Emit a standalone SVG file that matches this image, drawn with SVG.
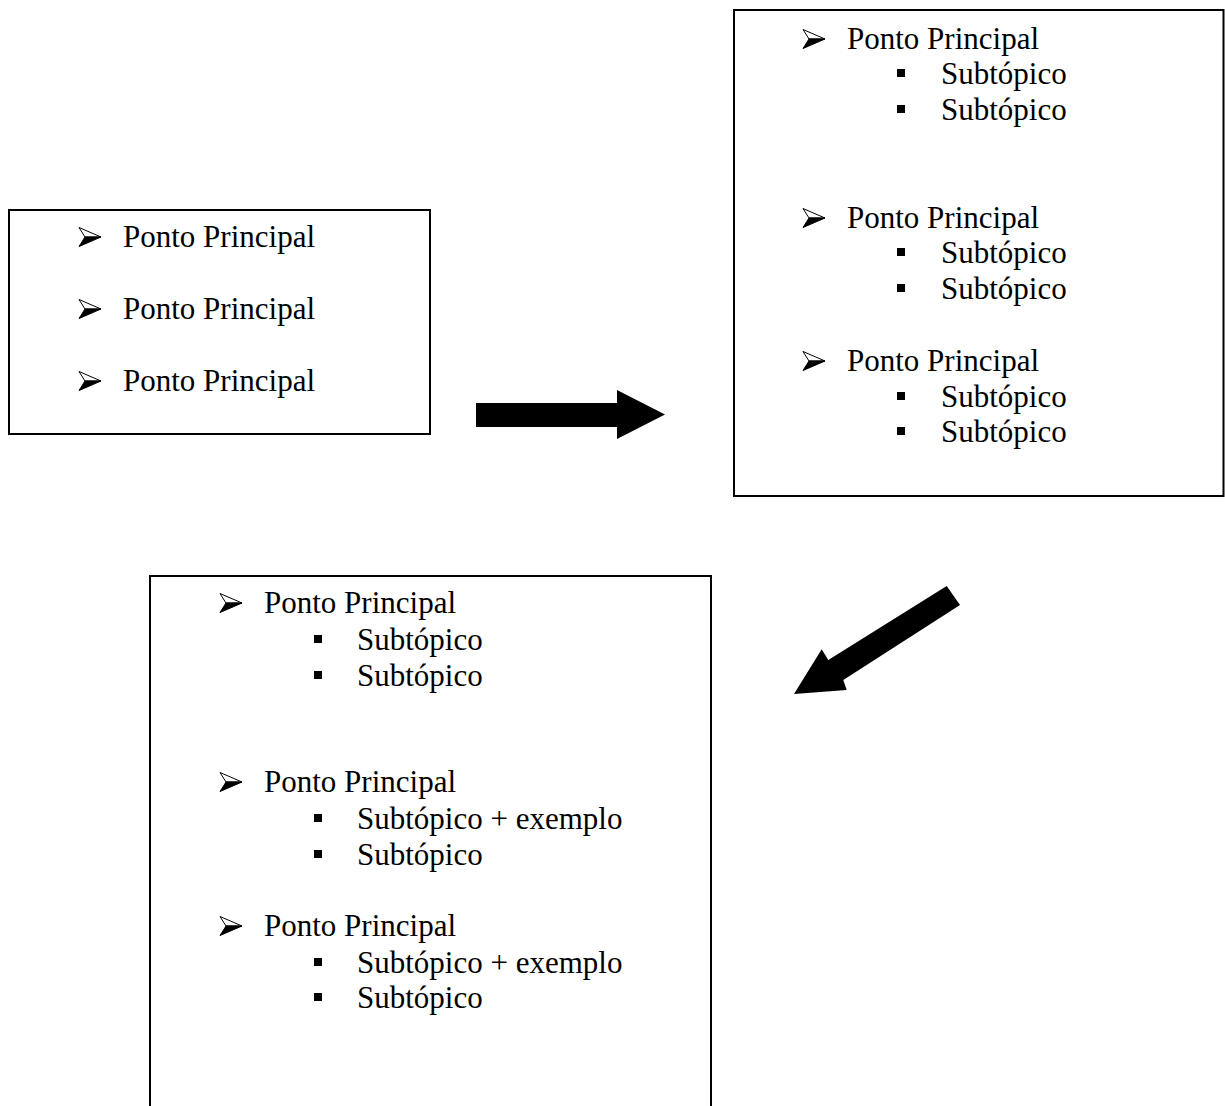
<svg xmlns="http://www.w3.org/2000/svg" width="1225" height="1106" viewBox="0 0 1225 1106">
<defs>
<style>
.box{fill:#fff;stroke:#000;stroke-width:2}
.t{font-family:"Liberation Serif","Times New Roman",serif;font-size:31px;fill:#000}
.sq{fill:#000}
</style>
<g id="arrowBullet">
<polygon points="0,-9.5 22,0 6,0" fill="#fff" stroke="#000" stroke-width="1"/>
<polygon points="6,0 22,0 0,9.5" fill="#000" stroke="#000" stroke-width="1"/>
</g>
<rect id="sqBullet" x="0" y="-4" width="8" height="8"/>
</defs>
<rect width="1225" height="1106" fill="#fff"/>

<g id="box1">
<rect class="box" x="9" y="210" width="421" height="224"/>
<use href="#arrowBullet" x="79" y="237"/>
<text class="t" x="123" y="247">Ponto Principal</text>
<use href="#arrowBullet" x="79" y="309"/>
<text class="t" x="123" y="319">Ponto Principal</text>
<use href="#arrowBullet" x="79" y="381"/>
<text class="t" x="123" y="391">Ponto Principal</text>
</g>

<g id="box2">
<rect class="box" x="734" y="10" width="489.5" height="486"/>
<use href="#arrowBullet" x="803" y="39"/>
<text class="t" x="847" y="49">Ponto Principal</text>
<use href="#sqBullet" x="897" y="73"/>
<text class="t" x="941" y="84">Subtópico</text>
<use href="#sqBullet" x="897" y="109"/>
<text class="t" x="941" y="120">Subtópico</text>
<use href="#arrowBullet" x="803" y="218"/>
<text class="t" x="847" y="228">Ponto Principal</text>
<use href="#sqBullet" x="897" y="252"/>
<text class="t" x="941" y="263">Subtópico</text>
<use href="#sqBullet" x="897" y="288"/>
<text class="t" x="941" y="299">Subtópico</text>
<use href="#arrowBullet" x="803" y="361"/>
<text class="t" x="847" y="371">Ponto Principal</text>
<use href="#sqBullet" x="897" y="396"/>
<text class="t" x="941" y="407">Subtópico</text>
<use href="#sqBullet" x="897" y="431"/>
<text class="t" x="941" y="442">Subtópico</text>
</g>

<g id="box3">
<rect class="box" x="150" y="576" width="561" height="560"/>
<use href="#arrowBullet" x="220" y="603"/>
<text class="t" x="264" y="613">Ponto Principal</text>
<use href="#sqBullet" x="314" y="639"/>
<text class="t" x="357" y="650">Subtópico</text>
<use href="#sqBullet" x="314" y="675"/>
<text class="t" x="357" y="686">Subtópico</text>
<use href="#arrowBullet" x="220" y="782"/>
<text class="t" x="264" y="792">Ponto Principal</text>
<use href="#sqBullet" x="314" y="818"/>
<text class="t" x="357" y="829">Subtópico + exemplo</text>
<use href="#sqBullet" x="314" y="854"/>
<text class="t" x="357" y="865">Subtópico</text>
<use href="#arrowBullet" x="220" y="926"/>
<text class="t" x="264" y="936">Ponto Principal</text>
<use href="#sqBullet" x="314" y="962"/>
<text class="t" x="357" y="973">Subtópico + exemplo</text>
<use href="#sqBullet" x="314" y="997"/>
<text class="t" x="357" y="1008">Subtópico</text>
</g>

<g id="connectors">
<polygon points="476,403 617,403 617,390 665,414.5 617,439 617,427 476,427" fill="#000"/>
<polygon points="946.7,586 960,605 843.3,680 846.7,690 794,694 821.7,649.3 828.3,660" fill="#000"/>
</g>
</svg>
